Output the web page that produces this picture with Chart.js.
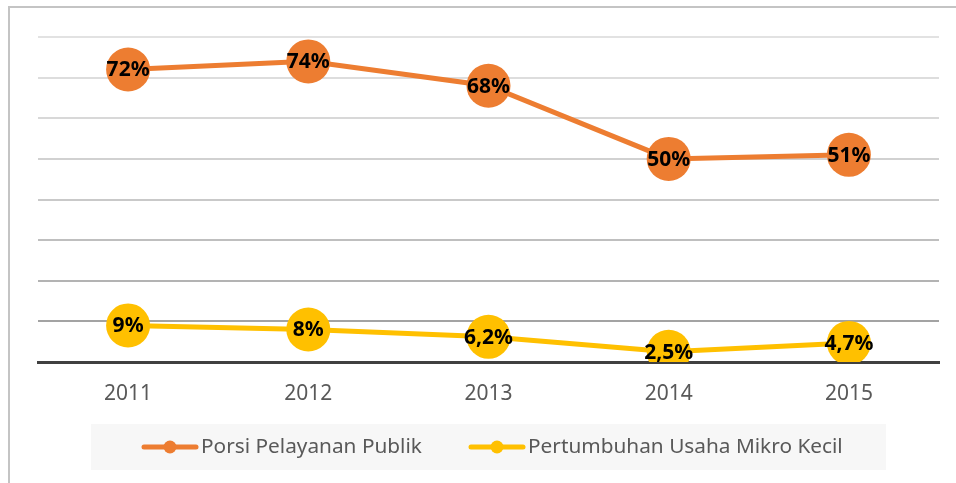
<!DOCTYPE html>
<html>
<head>
<meta charset="utf-8">
<script src="https://cdn.jsdelivr.net/npm/chart.js@4/dist/chart.umd.min.js"></script>
<style>
  html, body { margin: 0; padding: 0; background: #ffffff; }
  #wrap { position: relative; width: 956px; height: 483px; overflow: hidden; }
  #frame { position: absolute; left: 8px; top: 6px; width: 1200px; height: 1200px;
           border: 2px solid #c4c4c4; box-sizing: border-box; pointer-events: none; }
  canvas { position: absolute; left: 0; top: 0; }
</style>
</head>
<body>
<div id="wrap">
  <canvas id="c" width="956" height="483"></canvas>
  <div id="frame"></div>
</div>
<script>
const years = ['2011', '2012', '2013', '2014', '2015'];
const porsiPelayanan = [72, 74, 68, 50, 51];
const porsiLabels = ['72%', '74%', '68%', '50%', '51%'];
const pertumbuhanUMK = [9, 8, 6.2, 2.5, 4.7];
const pertumbuhanLabels = ['9%', '8%', '6,2%', '2,5%', '4,7%'];
const seriesNames = ['Porsi Pelayanan Publik', 'Pertumbuhan Usaha Mikro Kecil'];

const ORANGE = '#ED7D31';
const YELLOW = '#FFC000';
const gridShades = { 0: 'rgba(0,0,0,0)', 10: '#a3a3a3', 20: '#b3b3b3', 30: '#bfbfbf', 40: '#c9c9c9',
                     50: '#d1d1d1', 60: '#d8d8d8', 70: '#dddddd', 80: '#e2e2e2' };

const labelPlugin = {
  id: 'pointLabels',
  afterDatasetsDraw(chart) {
    const ctx = chart.ctx;
    ctx.save();
    ctx.font = 'bold 21px "Noto Sans"';
    ctx.fillStyle = '#000000';
    ctx.textAlign = 'center';
    ctx.textBaseline = 'middle';
    chart.data.datasets.forEach((ds, i) => {
      const meta = chart.getDatasetMeta(i);
      meta.data.forEach((pt, j) => {
        ctx.fillText(ds.valueLabels[j], pt.x, pt.y + 1);
      });
    });
    ctx.restore();
  }
};

const legendPlugin = {
  id: 'customLegend',
  afterDraw(chart) {
    const ctx = chart.ctx;
    ctx.save();
    ctx.fillStyle = '#f7f7f7';
    ctx.fillRect(91, 424, 795, 46);
    const items = [{ x: 142 }, { x: 469 }];
    chart.data.datasets.forEach((ds, i) => {
      const x0 = items[i].x, y = 447;
      ctx.strokeStyle = ds.borderColor;
      ctx.lineWidth = 5;
      ctx.lineCap = 'round';
      ctx.beginPath();
      ctx.moveTo(x0 + 2, y);
      ctx.lineTo(x0 + 54, y);
      ctx.stroke();
      ctx.fillStyle = ds.borderColor;
      ctx.beginPath();
      ctx.arc(x0 + 28, y, 6.5, 0, Math.PI * 2);
      ctx.fill();
      ctx.fillStyle = '#595959';
      ctx.font = '20.8px "Noto Sans"';
      ctx.textAlign = 'left';
      ctx.textBaseline = 'middle';
      ctx.fillText(ds.label, x0 + 59, y);
    });
    ctx.restore();
  }
};

new Chart(document.getElementById('c'), {
  type: 'line',
  data: {
    labels: years,
    datasets: [
      { label: seriesNames[0], data: porsiPelayanan, valueLabels: porsiLabels,
        borderColor: ORANGE, backgroundColor: ORANGE, borderWidth: 5,
        pointRadius: 22, pointHoverRadius: 22, pointBorderWidth: 0, tension: 0 },
      { label: seriesNames[1], data: pertumbuhanUMK, valueLabels: pertumbuhanLabels,
        borderColor: YELLOW, backgroundColor: YELLOW, borderWidth: 5,
        pointRadius: 22, pointHoverRadius: 22, pointBorderWidth: 0, tension: 0 }
    ]
  },
  options: {
    responsive: false,
    animation: false,
    events: [],
    layout: { autoPadding: false, padding: { left: 38, right: 17, top: 37, bottom: 0 } },
    plugins: { legend: { display: false }, tooltip: { enabled: false } },
    scales: {
      x: {
        offset: true,
        grid: { display: false, drawTicks: false },
        border: { display: true, color: '#404040', width: 3 },
        ticks: { color: '#595959', font: { family: 'Noto Sans', size: 21 }, padding: 19 },
        afterFit(scale) { scale.height = 121; }
      },
      y: {
        min: 0, max: 80,
        ticks: { display: false, stepSize: 10 },
        border: { display: false },
        grid: { drawTicks: false, lineWidth: 2,
                color: (c) => gridShades[c.tick.value] || '#d9d9d9' },
        afterFit(scale) { scale.width = 0; }
      }
    }
  },
  plugins: [labelPlugin, legendPlugin]
});
</script>
</body>
</html>
